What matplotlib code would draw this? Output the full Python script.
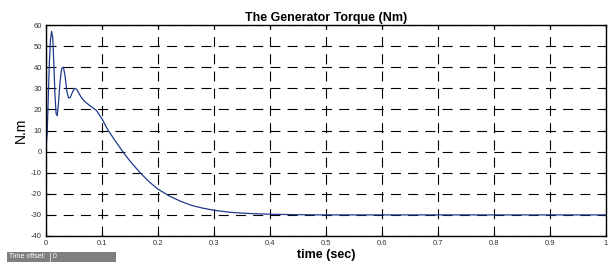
import matplotlib
matplotlib.use('Agg')
import matplotlib.pyplot as plt
from matplotlib.patches import Rectangle

# --- data ---
time_s = [0, 0.002, 0.004, 0.006, 0.008, 0.010, 0.012, 0.014, 0.016, 0.018,
          0.020, 0.022, 0.025, 0.028, 0.031, 0.034, 0.037, 0.040, 0.043, 0.047,
          0.051, 0.055, 0.060, 0.065, 0.070, 0.080, 0.090, 0.100, 0.110, 0.120,
          0.137, 0.150, 0.168, 0.185, 0.200, 0.220, 0.240, 0.260, 0.280, 0.300,
          0.330, 0.360, 0.400, 0.450, 0.500, 0.600, 1.0]
torque = [2, 8, 25, 42, 53, 57, 54, 42, 27, 18,
          17, 22, 33, 39.5, 40, 36, 29, 25.5, 25.5, 28,
          30, 29.5, 27, 25, 23.5, 21.5, 19.5, 15.5, 10.5, 6.5,
          0, -4.5, -10, -14.5, -17.8, -21, -23.5, -25.5, -26.8, -27.8,
          -28.8, -29.3, -29.7, -29.9, -30, -30, -30]
x_ticks = [0, 0.1, 0.2, 0.3, 0.4, 0.5, 0.6, 0.7, 0.8, 0.9, 1]
x_labels = ['0', '0.1', '0.2', '0.3', '0.4', '0.5', '0.6', '0.7', '0.8', '0.9', '1']
y_ticks = [-40, -30, -20, -10, 0, 10, 20, 30, 40, 50, 60]

plt.rcParams['font.family'] = ['Liberation Sans', 'DejaVu Sans']
plt.rcParams['axes.unicode_minus'] = False

fig = plt.figure(figsize=(6.09, 2.63), dpi=100)
ax = fig.add_axes([46 / 609, 27 / 263, 560 / 609, 211 / 263])

ax.plot(time_s, torque, color='#1f3a8a', linewidth=0.9)
ax.set_xlim(0, 1)
ax.set_ylim(-40, 60)
ax.set_xticks(x_ticks)
ax.set_xticklabels(x_labels)
ax.set_yticks(y_ticks)
ax.tick_params(direction='in', top=True, right=True, labelsize=5.5,
               length=3, width=0.8, labelcolor='#333333', pad=3)
ax.grid(True, color='black', linestyle=(0, (9, 6.5)), linewidth=0.8)
for sp in ax.spines.values():
    sp.set_linewidth(1.0)

ax.set_title('The Generator Torque (Nm)', fontsize=9, fontweight='bold', pad=3)
ax.set_xlabel('time (sec)', fontsize=9, fontweight='bold', labelpad=1)
ax.set_ylabel('N.m', fontsize=10, labelpad=2)

# "Time offset" box in lower-left corner
fig.patches.append(Rectangle((7 / 609, 1 / 263), 109 / 609, 10 / 263,
                             transform=fig.transFigure, facecolor='#7f7f7f',
                             edgecolor='none'))
fig.patches.append(Rectangle((50 / 609, 1.5 / 263), 1 / 609, 9 / 263,
                             transform=fig.transFigure, facecolor='#d0d0d0',
                             edgecolor='none'))
fig.text(9 / 609, 6 / 263, 'Time offset:', fontsize=5, color='white', va='center')
fig.text(53 / 609, 6 / 263, '0', fontsize=5, color='white', va='center')

fig.savefig('out.png', dpi=100)
